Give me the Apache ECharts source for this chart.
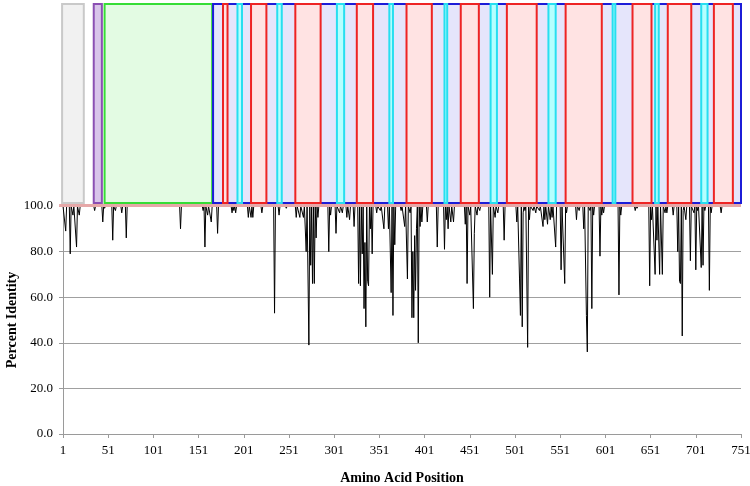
<!DOCTYPE html>
<html><head><meta charset="utf-8">
<script src="https://cdn.jsdelivr.net/npm/echarts@6/dist/echarts.min.js"></script>
<style>html,body{margin:0;padding:0;background:#fff}#c{width:750px;height:486px}</style>
</head><body><div id="c"></div>
<script>
// Tick labels
const xTicks = [1,51,101,151,201,251,301,351,401,451,501,551,601,651,701,751];
const yTicks = [0,20,40,60,80,100];
const yTitle = 'Percent Identity';
const xTitle = 'Amino Acid Position';

// Percent identity per amino acid position [position, percent]
const identityData = [[1,100],[3,100],[4,89],[5,100],[8,100],[9,79],[10,100],[11,100],[12,96],[13,100],[15,100],[16,82],[17,100],[18,100],[19,96],[20,100],[35,100],[36,98],[37,100],[44,100],[45,93],[46,100],[47,99],[48,100],[55,100],[56,85],[57,100],[58,100],[59,98],[60,100],[65,100],[66,97],[67,100],[70,100],[71,86],[72,100],[130,100],[131,90],[132,100],[155,100],[156,98],[157,100],[158,82],[159,100],[160,100],[161,96],[162,100],[164,100],[165,93],[166,100],[171,100],[172,88],[173,100],[187,100],[188,97],[189,100],[190,98],[191,100],[192,97],[193,100],[205,100],[206,95],[207,100],[208,100],[209,95],[210,100],[211,95],[212,100],[220,100],[221,97],[222,100],[234,100],[235,53],[236,100],[239,100],[240,96],[241,100],[247,100],[248,99],[249,100],[258,100],[259,95],[260,100],[262,100],[263,95],[264,100],[266,100],[267,95],[268,100],[269,100],[270,80],[271,100],[272,100],[273,39],[274,100],[275,74],[276,100],[277,66],[278,100],[279,66],[280,100],[281,86],[282,100],[283,95],[284,100],[294,100],[295,80],[296,100],[297,96],[298,100],[302,100],[303,88],[304,100],[306,100],[307,97],[308,100],[309,100],[310,97],[311,100],[314,100],[315,95],[316,100],[317,100],[318,94],[319,100],[322,100],[323,91],[324,100],[327,100],[328,66],[329,100],[330,65],[331,100],[332,79],[333,100],[334,55],[335,84],[336,47],[337,100],[338,67],[339,65],[340,100],[341,90],[342,100],[343,79],[344,100],[347,100],[348,97],[349,100],[351,100],[352,98],[353,100],[355,100],[356,90],[357,100],[360,100],[361,90],[362,100],[363,100],[364,62],[365,100],[366,52],[367,100],[368,83],[369,100],[374,100],[375,98],[376,100],[378,100],[379,91],[380,100],[381,100],[382,68],[383,100],[384,100],[385,97],[386,100],[387,51],[388,80],[389,51],[390,87],[391,63],[392,90],[393,100],[394,40],[395,100],[396,91],[397,100],[398,93],[399,100],[403,100],[404,93],[405,100],[414,100],[415,82],[416,100],[422,100],[423,81],[424,100],[425,94],[426,100],[427,90],[428,100],[429,100],[430,93],[431,100],[432,100],[433,93],[434,100],[445,100],[446,92],[447,100],[448,66],[449,100],[450,100],[451,96],[452,100],[454,100],[455,55],[456,88],[457,100],[458,100],[459,96],[460,100],[461,100],[462,98],[463,100],[472,100],[473,60],[474,100],[475,100],[476,70],[477,100],[478,100],[479,95],[480,100],[481,100],[482,97],[483,100],[488,100],[489,85],[490,100],[502,100],[503,93],[504,100],[505,100],[506,68],[507,52],[508,100],[509,47],[510,97],[511,100],[512,98],[513,100],[514,100],[515,38],[516,100],[517,94],[518,100],[520,100],[521,98],[522,100],[523,100],[524,97],[525,100],[527,100],[528,98],[529,100],[531,100],[532,91],[533,100],[534,94],[535,100],[536,100],[537,92],[538,100],[539,100],[540,94],[541,100],[542,95],[543,100],[545,100],[546,82],[547,100],[551,100],[552,72],[553,100],[555,100],[556,66],[557,100],[558,97],[559,100],[568,100],[569,94],[570,100],[571,100],[572,98],[573,100],[576,100],[577,90],[578,100],[579,100],[580,52],[581,36],[582,100],[583,100],[584,98],[585,100],[586,55],[587,100],[588,96],[589,100],[594,100],[595,78],[596,100],[597,96],[598,100],[599,97],[600,100],[615,100],[616,61],[617,100],[618,96],[619,100],[633,100],[634,98],[635,100],[636,99],[637,100],[649,100],[650,65],[651,100],[652,94],[653,100],[655,100],[656,70],[657,100],[658,85],[659,100],[660,100],[661,70],[662,100],[663,100],[664,70],[665,100],[666,100],[667,97],[668,100],[669,97],[670,100],[675,100],[676,96],[677,100],[680,100],[681,80],[682,100],[683,67],[684,66],[685,100],[686,43],[687,98],[688,100],[689,100],[690,94],[691,100],[694,100],[695,76],[696,100],[698,100],[699,97],[700,100],[701,72],[702,100],[703,98],[704,100],[706,100],[707,73],[708,100],[709,74],[710,100],[711,98],[712,100],[715,100],[716,63],[717,100],[718,97],[719,100],[728,100],[729,97],[730,100],[751,100]];

// Domain annotations (start, end, kind)
const domainStart = [0, 35, 47, 167, 178, 209, 258, 326, 381, 441, 492, 557, 631, 670, 721, 194, 238, 304, 362, 423, 474, 538, 609, 656, 707, 0];
const domainEnd   = [24, 44, 166, 751, 183, 226, 286, 344, 409, 461, 525, 597, 652, 696, 742, 199, 243, 312, 366, 426, 481, 546, 612, 660, 714, 751];
const domainKind  = ['gray','purple','green','blue','red','red','red','red','red','red','red','red','red','red','red','cyan','cyan','cyan','cyan','cyan','cyan','cyan','cyan','cyan','cyan','band'];

const kindStyle = {
  gray:   {fill:'#f1f1f1', stroke:'#c9c9c9', lw:2},
  purple: {fill:'#d8c4ea', stroke:'#8b4fb3', lw:2},
  green:  {fill:'#e3fbe3', stroke:'#36dd36', lw:2},
  blue:   {fill:'#e5e5fb', stroke:'#1c1cd8', lw:2},
  red:    {fill:'#ffe3e3', stroke:'#ee2424', lw:2},
  cyan:   {fill:'#b5ffff', stroke:'#27dff0', lw:2},
  band:   {fill:'#e6a8a8', stroke:null, lw:0}
};

const domainData = domainStart.map((s, i) => [s, domainEnd[i], i]);

const chart = echarts.init(document.getElementById('c'), null, {renderer:'canvas'});
const serif = 'Liberation Serif, Times New Roman, serif';

chart.setOption({
  animation: false,
  backgroundColor: '#fff',
  grid: [
    {left: 63, right: 9, top: 206, bottom: 52, containLabel: false, outerBoundsMode: 'none'},
    {left: 63, right: 9, top: 3, height: 201, containLabel: false, outerBoundsMode: 'none'}
  ],
  graphic: [{
    type: 'text', x: 12, y: 320, rotation: Math.PI / 2,
    style: {text: yTitle, font: 'bold 14px ' + serif, fill: '#000', align: 'center', verticalAlign: 'middle'}
  }],
  xAxis: [
    {
      type: 'value', gridIndex: 0, min: 1, max: 751,
      axisLine: {show: true, lineStyle: {color: '#9a9a9a', width: 1}},
      axisTick: {show: true, inside: false, length: 4, customValues: xTicks, lineStyle: {color: '#9a9a9a'}},
      axisLabel: {customValues: xTicks, color: '#000', fontFamily: serif, fontSize: 13, margin: 10},
      splitLine: {show: false},
      name: xTitle, nameLocation: 'middle', nameGap: 37,
      nameTextStyle: {fontFamily: serif, fontWeight: 'bold', fontSize: 14, color: '#000'}
    },
    {
      type: 'value', gridIndex: 1, min: 1, max: 751, show: false
    }
  ],
  yAxis: [
    {
      type: 'value', gridIndex: 0, min: 0, max: 100, interval: 20,
      axisLine: {show: true, lineStyle: {color: '#9a9a9a', width: 1}},
      axisTick: {show: true, length: 4, lineStyle: {color: '#9a9a9a'}},
      axisLabel: {formatter: v => v.toFixed(1), color: '#000', fontFamily: serif, fontSize: 13, margin: 10},
      splitLine: {show: true, lineStyle: {color: '#a0a0a0', width: 1}}
    },
    {type: 'value', gridIndex: 1, min: 0, max: 1, show: false}
  ],
  series: [
    {
      type: 'line', xAxisIndex: 0, yAxisIndex: 0, data: identityData,
      showSymbol: false, symbol: 'none', z: 2,
      lineStyle: {color: '#000', width: 1}
    },
    {
      type: 'custom', xAxisIndex: 1, yAxisIndex: 1, data: domainData, clip: false, z: 5,
      renderItem: function (params, api) {
        const s = api.value(0), e = api.value(1), k = domainKind[api.value(2)];
        const st = kindStyle[k];
        const p0 = api.coord([s, 0]), p1 = api.coord([e, 0]);
        const cs = params.coordSys;
        if (k === 'band') {
          return {type: 'rect', shape: {x: p0[0] - 3, y: cs.y + cs.height, width: p1[0] - p0[0] + 3, height: 3},
                  style: {fill: st.fill}};
        }
        return {type: 'rect', shape: {x: p0[0], y: cs.y + 1, width: p1[0] - p0[0], height: cs.height - 2},
                style: {fill: st.fill, stroke: st.stroke, lineWidth: st.lw}};
      }
    }
  ]
});
</script>
</body></html>
